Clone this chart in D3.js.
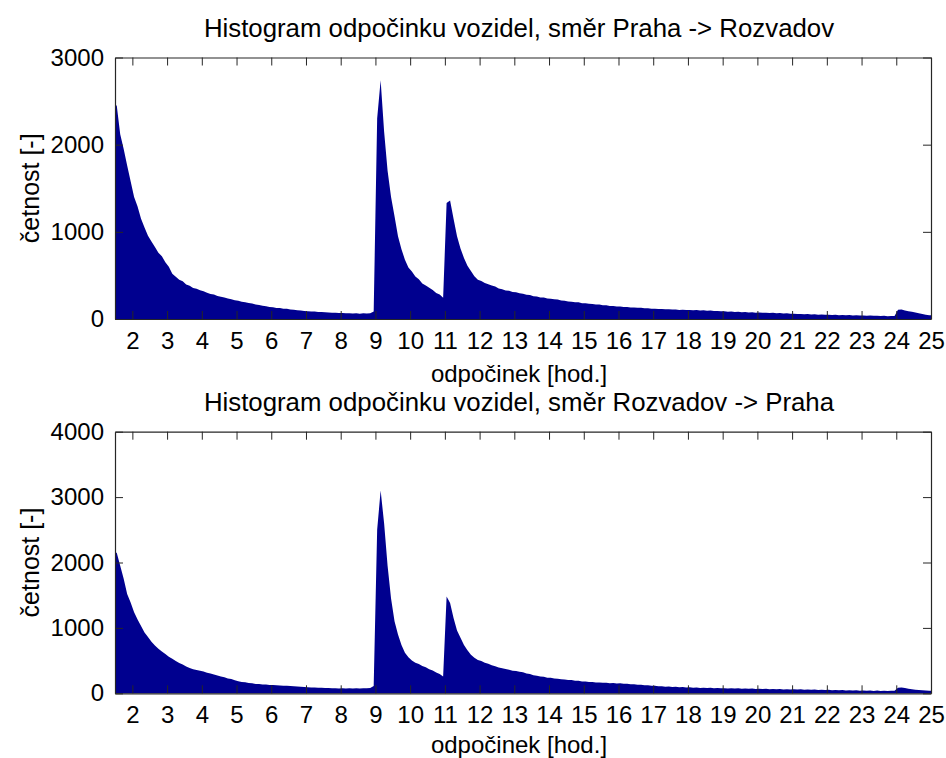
<!DOCTYPE html>
<html>
<head>
<meta charset="utf-8">
<script src="https://cdn.jsdelivr.net/npm/d3@7"></script>
<style>
  body { margin: 0; background: #fff; }
  text { font-family: "Liberation Sans", Arial, sans-serif; fill: #000; }
</style>
</head>
<body>
<div id="chart"></div>
<script>
// ---------------------- data ----------------------
// bins of 0.1 h starting at 1.5 h, last one ends at 25 h
var binStart = 1.5, binWidth = 0.1, binEnd = 25;
var xTicks = [2, 3, 4, 5, 6, 7, 8, 9, 10, 11, 12, 13, 14, 15, 16, 17, 18, 19, 20, 21, 22, 23, 24, 25];
var yTicksTop = [0, 1000, 2000, 3000];
var yTicksBottom = [0, 1000, 2000, 3000, 4000];

// smer Praha -> Rozvadov
var countsPrahaRozvadov = [
  2450, 2120, 1950, 1760, 1580,
  1400, 1290, 1150, 1050, 955, 890, 825, 760, 720, 650,
  600, 520, 485, 450, 432, 395, 382, 355, 346, 330,
  318, 302, 288, 280, 264, 256, 247, 235, 228, 215,
  209, 199, 193, 183, 179, 167, 161, 151, 146, 139,
  135, 127, 126, 119, 117, 109, 105, 99, 97, 91,
  90, 87, 87, 81, 81, 77, 75, 71, 71, 69,
  68, 65, 67, 63, 66, 61, 65, 62, 67, 85,
  2300, 2740, 2150, 1700, 1400, 1180, 950, 800, 680, 590,
  545, 488, 455, 408, 384, 358, 333, 298, 282, 245,
  1330, 1360, 1150, 950, 810, 700, 610, 550, 490, 450,
  437, 413, 400, 383, 372, 350, 342, 328, 324, 310,
  306, 294, 290, 278, 274, 260, 258, 248, 246, 234,
  233, 226, 223, 213, 209, 200, 199, 192, 191, 182,
  181, 175, 173, 166, 165, 158, 157, 150, 149, 142,
  143, 137, 138, 132, 133, 128, 129, 123, 123, 118,
  119, 114, 115, 111, 112, 108, 109, 104, 106, 102,
  104, 100, 102, 98, 100, 96, 97, 92, 93, 88,
  89, 84, 86, 81, 83, 78, 80, 76, 77, 73,
  75, 71, 73, 69, 71, 67, 69, 64, 65, 60,
  61, 56, 58, 54, 56, 52, 54, 50, 52, 48,
  50, 46, 48, 44, 47, 43, 45, 41, 43, 39,
  41, 37, 39, 36, 38, 34, 36, 32, 34, 33,
  105, 110, 98, 90, 82, 74, 66, 58, 50, 44
];

// smer Rozvadov -> Praha
var countsRozvadovPraha = [
  2150, 1950, 1750, 1520, 1390,
  1240, 1130, 1030, 930, 860, 790, 730, 680, 640, 600,
  560, 530, 495, 465, 440, 410, 387, 368, 356, 343,
  332, 313, 301, 286, 273, 256, 244, 228, 217, 199,
  186, 174, 169, 159, 153, 144, 141, 135, 133, 128,
  128, 123, 121, 116, 115, 111, 109, 103, 101, 95,
  93, 89, 89, 85, 85, 81, 81, 77, 78, 75,
  77, 74, 77, 73, 76, 75, 76, 76, 80, 110,
  2500, 3100, 2600, 1950, 1450, 1100, 900, 740, 620, 550,
  502, 468, 447, 418, 397, 368, 347, 318, 297, 258,
  1480, 1380, 1150, 960, 850, 740, 660, 590, 545, 510,
  492, 468, 452, 428, 412, 393, 384, 370, 362, 343,
  340, 328, 320, 303, 294, 276, 268, 256, 252, 238,
  236, 226, 224, 214, 212, 203, 202, 193, 192, 182,
  180, 173, 174, 166, 167, 160, 161, 155, 157, 151,
  152, 145, 145, 138, 138, 130, 130, 122, 122, 114,
  114, 107, 108, 101, 103, 97, 99, 93, 95, 89,
  91, 85, 88, 82, 85, 80, 83, 78, 81, 76,
  79, 74, 78, 73, 76, 71, 74, 69, 72, 67,
  70, 65, 68, 63, 66, 61, 64, 60, 63, 59,
  63, 58, 61, 56, 59, 54, 57, 52, 55, 50,
  53, 48, 51, 46, 49, 44, 47, 42, 45, 40,
  43, 39, 42, 37, 41, 36, 40, 35, 39, 38,
  85, 88, 80, 70, 62, 56, 50, 46, 42, 40
];

var titles = [
  "Histogram odpočinku vozidel, směr Praha -> Rozvadov",
  "Histogram odpočinku vozidel, směr Rozvadov -> Praha"
];
var xLabel = "odpočinek [hod.]";
var yLabel = "četnost [-]";

// ---------------------- drawing ----------------------
var W = 946, H = 758;
var barColor = "#00008f";
var axisColor = "#262626";

var svg = d3.select("#chart")
     .append("svg")
     .attr("width", W)
     .attr("height", H);

var x = d3.scaleLinear().domain([binStart, binEnd]).range([115, 931]);

function drawPanel(counts, title, yTicks, top, bottom) {
  var y = d3.scaleLinear().domain([yTicks[0], yTicks[yTicks.length - 1]]).range([bottom, top]);

  // one point per bin centre, held flat out to both plot edges
  var pts = counts.map(function (c, i) { return [binStart + (i + 0.5) * binWidth, c]; });
  pts.unshift([binStart, counts[0]]);
  pts.push([binEnd, counts[counts.length - 1]]);

  var area = d3.area()
     .x(function (d) { return x(d[0]); })
     .y0(y(0))
     .y1(function (d) { return y(d[1]); });

  svg.append("path")
     .datum(pts)
     .attr("d", area)
     .attr("fill", barColor);

  var g = svg.append("g");

  // box with inward ticks on all four sides
  g.append("g").attr("transform", "translate(0," + bottom + ")")
     .call(d3.axisBottom(x).tickValues(xTicks).tickSize(-8).tickSizeOuter(0).tickPadding(13).tickFormat(d3.format("d")));
  g.append("g").attr("transform", "translate(0," + top + ")")
     .call(d3.axisTop(x).tickValues(xTicks).tickSize(-8).tickSizeOuter(0).tickFormat(""));
  g.append("g").attr("transform", "translate(" + x(binStart) + ",0)")
     .call(d3.axisLeft(y).tickValues(yTicks).tickSize(-8).tickSizeOuter(0).tickPadding(11).tickFormat(d3.format("d")));
  g.append("g").attr("transform", "translate(" + x(binEnd) + ",0)")
     .call(d3.axisRight(y).tickValues(yTicks).tickSize(-8).tickSizeOuter(0).tickFormat(""));

  g.selectAll(".domain").attr("stroke", axisColor).attr("stroke-width", 1.2);
  g.selectAll(".tick line").attr("stroke", axisColor);
  g.selectAll(".tick text").style("font-size", "24px").attr("fill", "#000");

  svg.append("text")
     .text(title)
     .attr("x", 519)
     .attr("y", top - 21)
     .attr("text-anchor", "middle")
     .style("font-size", "25.8px");

  svg.append("text")
     .text(xLabel)
     .attr("x", 519)
     .attr("y", Math.min(bottom + 63, H - 5))
     .attr("text-anchor", "middle")
     .style("font-size", "24px");

  svg.append("text")
     .text(yLabel)
     .attr("transform", "translate(39," + ((top + bottom) / 2) + ") rotate(-90)")
     .attr("text-anchor", "middle")
     .style("font-size", "25px");
}

drawPanel(countsPrahaRozvadov, titles[0], yTicksTop, 57.5, 319);
drawPanel(countsRozvadovPraha, titles[1], yTicksBottom, 431.7, 693.3);
</script>
</body>
</html>
